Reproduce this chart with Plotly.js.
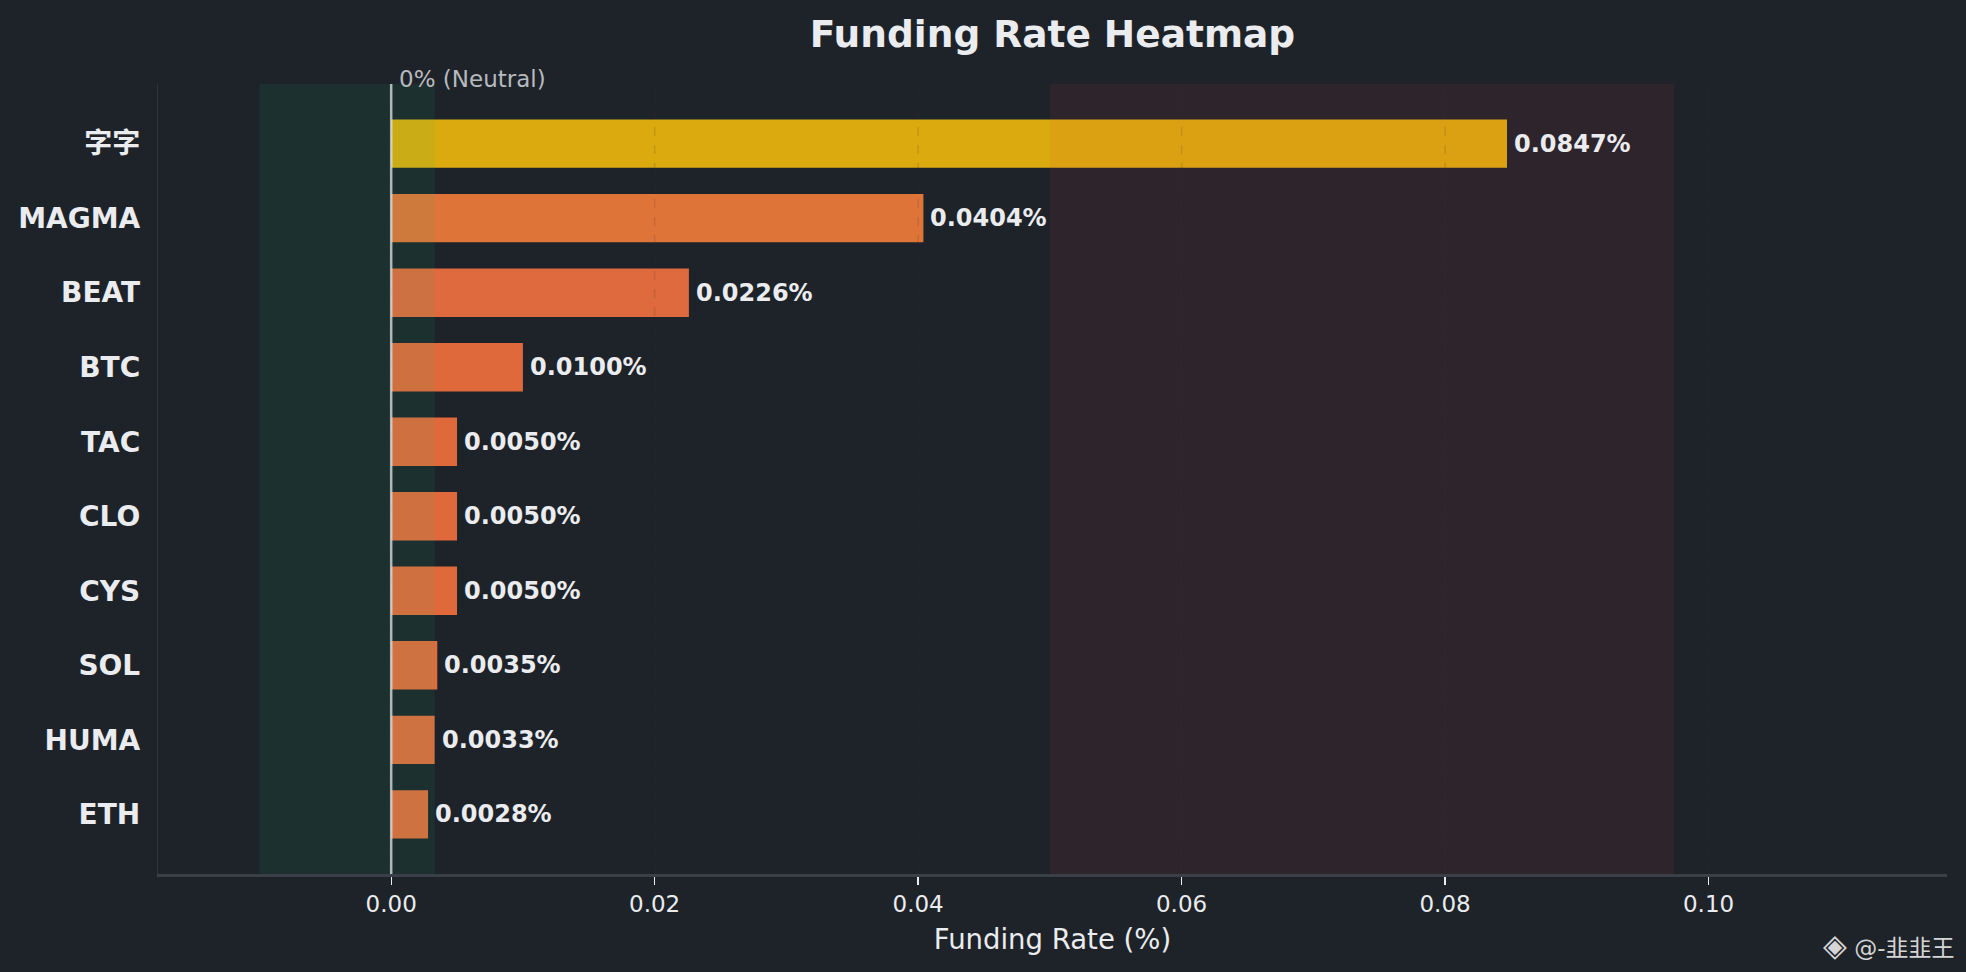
<!DOCTYPE html>
<html>
<head>
<meta charset="utf-8">
<script src="https://cdn.plot.ly/plotly-3.0.1.min.js"></script>
<style>
  html, body { margin: 0; padding: 0; background: #1E2329; }
  #chart { width: 1966px; height: 972px; }
</style>
</head>
<body>
<div id="chart"></div>
<script>
// ---- data ----
const categories = ['字字', 'MAGMA', 'BEAT', 'BTC', 'TAC', 'CLO', 'CYS', 'SOL', 'HUMA', 'ETH'];
const rates = [0.0847, 0.0404, 0.0226, 0.0100, 0.0050, 0.0050, 0.0050, 0.0035, 0.0033, 0.0028];
const barColors = ['#F0B90B', '#F47D3A', '#F3723F', '#F5713D', '#F5713E', '#F5713E', '#F5713E', '#F5733F', '#F5733F', '#F5733F'];
const xTickVals = [0, 0.02, 0.04, 0.06, 0.08, 0.10];
const xTickText = ['0.00', '0.02', '0.04', '0.06', '0.08', '0.10'];
const neutralZone = [-0.01, 0.0033];
const hotZone = [0.05, 0.0974];
const xLimits = [-0.0177, 0.1181];

const FONT = 'DejaVu Sans, Liberation Sans, Noto Sans CJK SC, sans-serif';
const TXT = '#EAECEF';

const trace = {
  type: 'bar',
  orientation: 'h',
  y: categories,
  x: rates,
  width: 0.65,
  marker: { color: barColors, opacity: 0.9, line: { width: 0 } },
  hoverinfo: 'skip'
};

const shapes = [];
// zones
shapes.push({
  type: 'rect', layer: 'above', xref: 'x', yref: 'paper',
  x0: neutralZone[0], x1: neutralZone[1], y0: 0, y1: 1,
  fillcolor: '#0ECB81', opacity: 0.08, line: { width: 0 }
});
shapes.push({
  type: 'rect', layer: 'above', xref: 'x', yref: 'paper',
  x0: hotZone[0], x1: hotZone[1], y0: 0, y1: 1,
  fillcolor: '#F6465D', opacity: 0.08, line: { width: 0 }
});
// faint dashed grid lines drawn above the bars (only noticeable on the bars)
xTickVals.forEach(v => {
  shapes.push({
    type: 'line', layer: 'above', xref: 'x', yref: 'paper',
    x0: v, x1: v, y0: 0, y1: 1,
    line: { color: 'rgba(60,55,50,0.16)', width: 1.5, dash: 'dash' }
  });
});
// zero line
shapes.push({
  type: 'line', layer: 'above', xref: 'x', yref: 'paper',
  x0: 0, x1: 0, y0: 0, y1: 1,
  line: { color: 'rgba(234,236,239,0.72)', width: 2.5 }
});

const annotations = rates.map((r, i) => ({
  x: r, y: categories[i], xref: 'x', yref: 'y',
  text: r.toFixed(4) + '%',
  showarrow: false, xanchor: 'left', yanchor: 'middle', xshift: 5,
  font: { family: FONT, size: 24, color: TXT, weight: 'bold' }
}));
annotations.push({
  x: 0, y: 1, xref: 'x', yref: 'paper',
  text: '0% (Neutral)', showarrow: false,
  xanchor: 'left', yanchor: 'middle', xshift: 6, yshift: 5,
  font: { family: FONT, size: 23, color: '#B7BABE' }
});
annotations.push({
  x: 1, y: 0, xref: 'paper', yref: 'paper',
  text: '<span style="font-size:31px">◈</span> @-韭韭王', showarrow: false,
  xanchor: 'right', yanchor: 'middle', xshift: 9, yshift: -71,
  font: { family: FONT, size: 23, color: '#D5D5D5' }
});

const layout = {
  width: 1966, height: 972,
  paper_bgcolor: '#1E2329', plot_bgcolor: '#1E2329',
  margin: { l: 158, r: 19, t: 84, b: 98 },
  showlegend: false,
  title: {
    text: 'Funding Rate Heatmap',
    x: 0.5, xref: 'paper', y: 1 - 34 / 972, yref: 'container', yanchor: 'middle',
    font: { family: FONT, size: 37.5, color: TXT, weight: 'bold' }
  },
  xaxis: {
    range: xLimits,
    tickvals: xTickVals, ticktext: xTickText,
    ticks: 'outside', ticklen: 8, tickwidth: 1.3, tickcolor: TXT,
    tickfont: { family: FONT, size: 23, color: TXT },
    showgrid: false, zeroline: false,
    showline: true, linecolor: '#3B4048', linewidth: 2.5,
    title: { text: 'Funding Rate (%)', standoff: 14, font: { family: FONT, size: 27.5, color: TXT } }
  },
  yaxis: {
    type: 'category',
    categoryorder: 'array', categoryarray: categories,
    range: [categories.length - 1 + 0.8, -0.8],
    ticks: '', ticklabelstandoff: 11,
    tickfont: { family: FONT, size: 28, color: TXT, weight: 'bold' },
    showgrid: false, zeroline: false,
    showline: true, linecolor: '#30353C', linewidth: 1.2
  },
  shapes: shapes,
  annotations: annotations
};

Plotly.newPlot('chart', [trace], layout, { displayModeBar: false, staticPlot: true });
</script>
</body>
</html>
